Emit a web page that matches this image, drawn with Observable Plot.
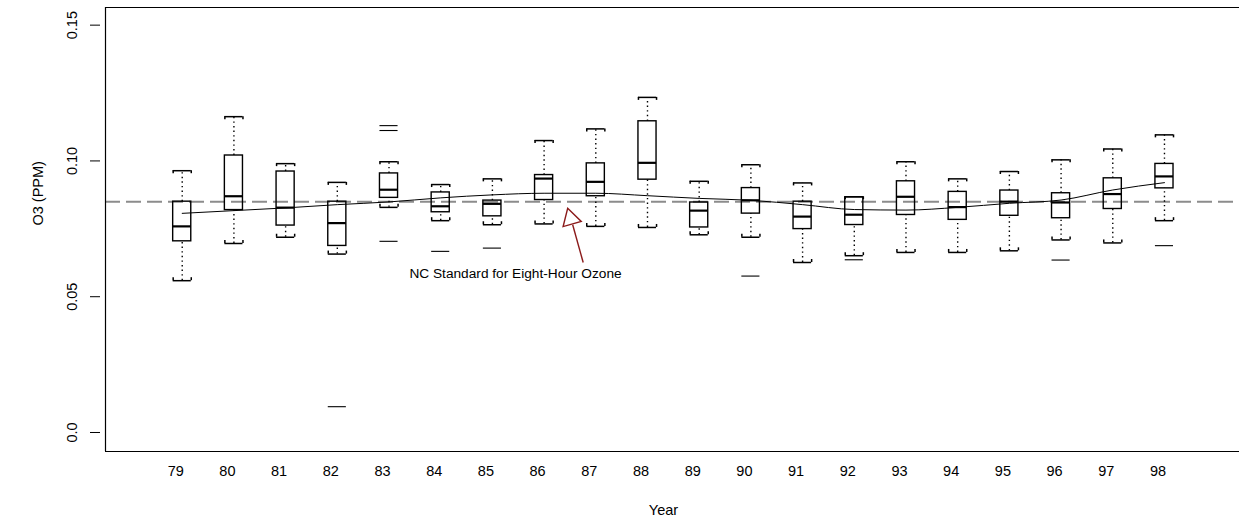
<!DOCTYPE html>
<html>
<head>
<meta charset="utf-8">
<script src="https://cdn.jsdelivr.net/npm/d3@7"></script>
<script src="https://cdn.jsdelivr.net/npm/@observablehq/plot@0.6"></script>
<style>
  html, body { margin: 0; padding: 0; background: #fff; overflow: hidden; }
  #chart { width: 1239px; overflow: hidden; }
  #chart svg { display: block; }
</style>
</head>
<body>
<div id="chart"></div>
<script>
// Eight-hour ozone by year: box summaries, outliers and a smoothed trend
const years = [79, 80, 81, 82, 83, 84, 85, 86, 87, 88, 89, 90, 91, 92, 93, 94, 95, 96, 97, 98];
const whiskerHigh = [0.0964, 0.1163, 0.0990, 0.0921, 0.0997, 0.0913, 0.0934, 0.1075, 0.1118, 0.1234,
                     0.0925, 0.0986, 0.0919, 0.0868, 0.0997, 0.0934, 0.0961, 0.1004, 0.1044, 0.1096];
const upperQuartile = [0.0850, 0.1020, 0.0961, 0.0850, 0.0954, 0.0884, 0.0854, 0.0948, 0.0991, 0.1146,
                       0.0847, 0.0900, 0.0850, 0.0866, 0.0925, 0.0886, 0.0891, 0.0881, 0.0936, 0.0989];
const medians = [0.0759, 0.0870, 0.0828, 0.0771, 0.0894, 0.0833, 0.0842, 0.0935, 0.0923, 0.0993,
                 0.0817, 0.0855, 0.0795, 0.0802, 0.0868, 0.0830, 0.0850, 0.0847, 0.0878, 0.0943];
const lowerQuartile = [0.0704, 0.0819, 0.0762, 0.0687, 0.0864, 0.0811, 0.0796, 0.0856, 0.0870, 0.0931,
                       0.0755, 0.0806, 0.0749, 0.0764, 0.0801, 0.0783, 0.0798, 0.0789, 0.0823, 0.0899];
const whiskerLow = [0.0559, 0.0696, 0.0719, 0.0657, 0.0829, 0.0780, 0.0765, 0.0768, 0.0759, 0.0755,
                    0.0728, 0.0719, 0.0626, 0.0651, 0.0663, 0.0663, 0.0669, 0.0709, 0.0698, 0.0780];
const outlierYears  = [82, 83, 83, 83, 84, 85, 90, 92, 96, 98];
const outlierValues = [0.0095, 0.1130, 0.1112, 0.0704, 0.0667, 0.0679, 0.0576, 0.0636, 0.0635, 0.0688];
const trend = [0.0807, 0.0817, 0.0827, 0.0839, 0.0849, 0.0864, 0.0875, 0.0881, 0.0881, 0.0872,
               0.0862, 0.0855, 0.0839, 0.0821, 0.0819, 0.0829, 0.0844, 0.0856, 0.0893, 0.0920];
const standard = 0.085;
const yTicks = [0, 0.05, 0.10, 0.15];
const yTickLabels = ["0.0", "0.05", "0.10", "0.15"];
const noteText = "NC Standard for Eight-Hour Ozone";
const notePos = {x: 85.447, y: 0.0585};
const arrowTail = {x: 86.756, y: 0.0626};
const arrowBase = {x: 86.553, y: 0.0765};
const arrowHead = {x: 86.514, y: 0.0787};

const xDomain = [77.516, 99.49];
const yDomain = [-0.007, 0.1565];

const boxes = years.map((year, i) => ({
  year, lo: whiskerLow[i], q1: lowerQuartile[i], med: medians[i], q3: upperQuartile[i], hi: whiskerHigh[i], trend: trend[i]
}));
const outliers = outlierYears.map((year, i) => ({year, value: outlierValues[i]}));
const yTickRows = yTicks.map((v, i) => ({v, label: yTickLabels[i]}));

const hw = 0.175;   // half box width, in years
const ink = "#000";
const noteRed = "#8b1a1a";
const font = "Liberation Sans, Arial, Helvetica, sans-serif";

const chart = Plot.plot({
  width: 1239,
  height: 521,
  marginLeft: 105,
  marginRight: -2,
  marginTop: 7,
  marginBottom: 70,
  style: {fontFamily: font},
  x: {type: "linear", domain: xDomain, axis: null},
  y: {type: "linear", domain: yDomain, axis: null},
  marks: [
    // reference standard
    Plot.ruleY([standard], {stroke: "#8c8c8c", strokeWidth: 2, strokeDasharray: "15,6"}),
    // whiskers
    Plot.ruleX(boxes, {x: "year", y1: "q3", y2: "hi", stroke: ink, strokeWidth: 1.4, strokeDasharray: "1.4,3.2"}),
    Plot.ruleX(boxes, {x: "year", y1: "lo", y2: "q1", stroke: ink, strokeWidth: 1.4, strokeDasharray: "1.4,3.2"}),
    // whisker caps
    Plot.ruleY(boxes, {y: "hi", x1: d => d.year - hw, x2: d => d.year + hw, stroke: ink, strokeWidth: 1.5}),
    Plot.ruleY(boxes, {y: "lo", x1: d => d.year - hw, x2: d => d.year + hw, stroke: ink, strokeWidth: 1.5}),
    Plot.ruleX(boxes.flatMap(d => [{x: d.year - hw, y: d.hi}, {x: d.year + hw, y: d.hi}]),
      {x: "x", y1: "y", y2: "y", insetTop: 3, stroke: ink, strokeWidth: 1.5}),
    Plot.ruleX(boxes.flatMap(d => [{x: d.year - hw, y: d.lo}, {x: d.year + hw, y: d.lo}]),
      {x: "x", y1: "y", y2: "y", insetBottom: 3, stroke: ink, strokeWidth: 1.5}),
    // boxes and medians
    Plot.rect(boxes, {x1: d => d.year - hw, x2: d => d.year + hw, y1: "q1", y2: "q3", fill: "none", stroke: ink, strokeWidth: 1.4}),
    Plot.ruleY(boxes, {y: "med", x1: d => d.year - hw, x2: d => d.year + hw, stroke: ink, strokeWidth: 2.2}),
    // outliers
    Plot.ruleY(outliers, {y: "value", x1: d => d.year - hw, x2: d => d.year + hw, stroke: ink, strokeWidth: 1.1}),
    // smoothed trend
    Plot.line(boxes, {x: "year", y: "trend", stroke: ink, strokeWidth: 1, curve: "monotone-x"}),
    // annotation
    Plot.link([0], {x1: () => arrowTail.x, y1: () => arrowTail.y, x2: () => arrowBase.x, y2: () => arrowBase.y,
      stroke: noteRed, strokeWidth: 1.4}),
    Plot.dot([arrowHead], {x: "x", y: "y", symbol: "triangle", r: 7, rotate: -16,
      fill: "#fff", stroke: noteRed, strokeWidth: 1.4}),
    Plot.text([notePos], {x: "x", y: "y", text: () => noteText, fontSize: 13.7, fill: "#000"}),
    // plot box: left, top and bottom edges (right edge runs past the page)
    Plot.ruleY(yDomain, {stroke: ink, strokeWidth: 1.2}),
    Plot.ruleX([xDomain[0]], {stroke: ink, strokeWidth: 1.2}),
    // axes
    Plot.axisY(yTicks, {tickSize: 10, dx: -5, tickFormat: () => "", label: null, stroke: ink}),
    Plot.text(yTickRows, {y: "v", text: "label", frameAnchor: "left", dx: -33, rotate: -90,
      textAnchor: "middle", lineAnchor: "middle", fontSize: 14.5, fill: "#000"}),
    Plot.text(years, {x: d => d, text: d => String(d), frameAnchor: "bottom", dy: 19.5, dx: -6.5,
      lineAnchor: "middle", fontSize: 14.5, fill: "#000"}),
    Plot.text(["Year"], {frameAnchor: "bottom", dx: -10, dy: 59, lineAnchor: "middle", fontSize: 14.5, fill: "#000"}),
    Plot.text(["O3 (PPM)"], {frameAnchor: "left", dx: -67, dy: -4, rotate: -90, lineAnchor: "middle", fontSize: 14.5, fill: "#000"})
  ]
});

document.getElementById("chart").append(chart);
</script>
</body>
</html>
